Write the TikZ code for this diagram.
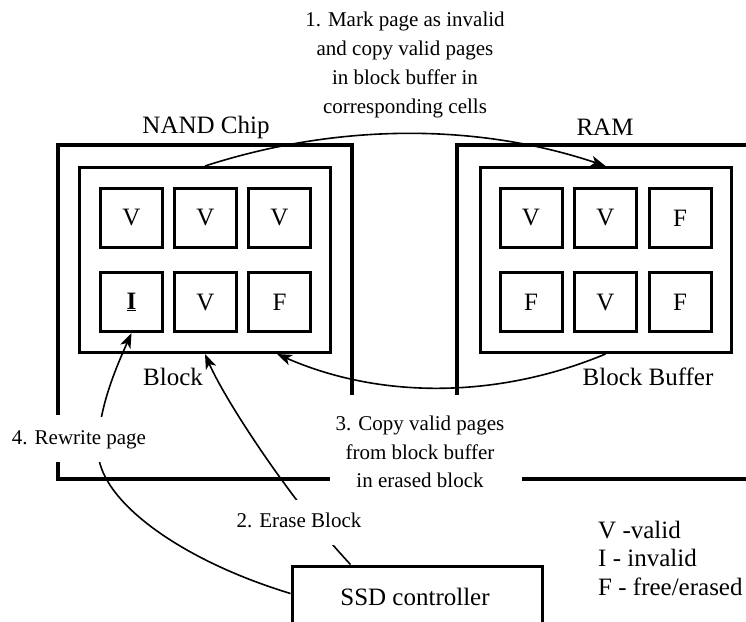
\documentclass[tikz,border=0pt]{standalone}
\usepackage{fontspec}
\setmainfont{LiberationSerif}[Extension=.ttf,UprightFont=*-Regular,BoldFont=*-Bold,ItalicFont=*-Italic,BoldItalicFont=*-BoldItalic]
\usetikzlibrary{arrows.meta,calc}
\begin{document}
\begin{tikzpicture}[x=1pt,y=-1pt,
  cell/.style={draw,line width=3pt,minimum width=62pt,minimum height=59pt,inner sep=0pt,font=\fontsize{25}{30}\selectfont},
  blk/.style={draw,line width=3pt,minimum width=251pt,minimum height=185pt,inner sep=0pt},
  wall/.style={line width=3.3pt},
  conn/.style={line width=1.6pt,-{Stealth[length=15pt,width=11pt,inset=4pt]}},
  big/.style={font=\fontsize{25}{30}\selectfont,inner sep=0pt},
  steplab/.style={font=\fontsize{21}{28.7}\selectfont,align=center,inner sep=0pt},
  cutlab/.style={steplab,fill=white,text height=15pt,text depth=5pt,inner xsep=2pt,inner ysep=12.5pt},
  ]
\clip (0,0) rectangle (746,621);
% container walls
\draw[wall] (58,415) -- (58,145) -- (352,145) -- (352,395);
\draw[wall] (58,460) -- (58,479) -- (330,479);
\draw[wall] (457,395) -- (457,145) -- (750,145);
\draw[wall] (522,479) -- (750,479);
% blocks
\node[blk] (nandblock) at (205,260) {};
\node[blk] (ramblock) at (605.5,260) {};
% NAND cells
\node[cell] (n11) at (131.5,218) {V};
\node[cell] (n12) at (205.5,218) {V};
\node[cell] (n13) at (279.5,218) {V};
\node[cell] (cI)  at (131.5,302) {\underline{\textbf{I}}};
\node[cell] (n22) at (205.5,302) {V};
\node[cell] (n23) at (279.5,302) {F};
% RAM cells
\node[cell] (r11) at (531,218) {V};
\node[cell] (r12) at (605.5,218) {V};
\node[cell] (r13) at (680,218) {F};
\node[cell] (r21) at (531,302) {F};
\node[cell] (r22) at (605.5,302) {V};
\node[cell] (r23) at (680,302) {F};
% titles
\node[big] (tnand) at (206,127) {NAND Chip};
\node[big] (tram) at (605,127) {RAM};
\node[big] (tblock) at (173,377) {Block};
\node[big] (tbuf) at (648,377) {Block Buffer};
% SSD controller
\node[draw,line width=3pt,minimum width=250pt,minimum height=90pt,inner sep=0pt,anchor=north west] (ssd) at (290.5,564.5) {};
\node[big] (ssdtext) at (415,597) {SSD controller};
% step 1
\node[steplab] (s1) at (405,65) {1. Mark page as invalid\\and copy valid pages\\in block buffer in\\corresponding cells};
\draw[conn] (nandblock.north) .. controls (338,123) and (477,123) .. (ramblock.north);
% step 3
\node[steplab] (s3) at (420,452) {3. Copy valid pages\\from block buffer\\in erased block};
\draw[conn] (ramblock.south) .. controls (500,398) and (382,400) .. ($(nandblock.south east)+(-55,0)$);
% step 2
\draw[conn] ($(ssd.north west)+(60,0)$) .. controls (290,500) and (225,400) .. (nandblock.south);
\node[cutlab] (s2) at (299,522) {2. Erase Block};
% step 4
\draw[conn] ($(ssd.north west)+(0,29)$) .. controls (180,560) and (98,500) .. (98,450)
   .. controls (98,410) and (115,370) .. (cI.south);
\node[cutlab] (s4) at (79,439) {4. Rewrite page};
% legend
\node[anchor=west,align=left,inner sep=0pt,font=\fontsize{25}{28.5}\selectfont] (legend) at (598,558)
  {V -valid\\I - invalid\\F - free/erased};
\end{tikzpicture}
\end{document}
